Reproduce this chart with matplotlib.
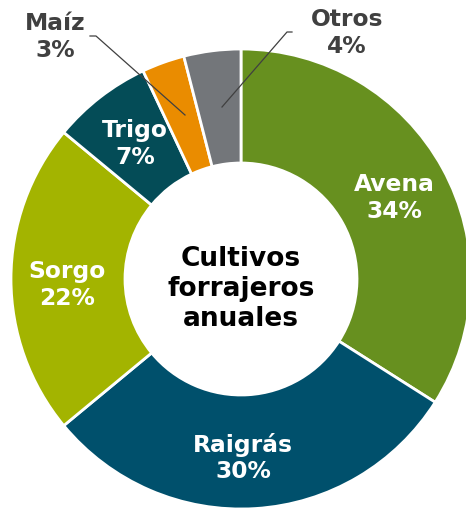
import matplotlib
matplotlib.use("Agg")
import matplotlib.pyplot as plt

# ── Data ─────────────────────────────────────────────────────────────────────
cultivos = ["Avena", "Raigrás", "Sorgo", "Trigo", "Maíz", "Otros"]
porcentajes = [34, 30, 22, 7, 3, 4]
colores = ["#67901f", "#00506c", "#a3b400", "#044c57", "#ea8c00", "#73767a"]

W, H = 466, 511
fig = plt.figure(figsize=(W / 100, H / 100), dpi=100)
ax = fig.add_axes([0, 0, 1, 1])

cx, cy = 241, H - 279
R, R_in = 230, 116
ax.pie(
    porcentajes, colors=colores, startangle=90, counterclock=False,
    center=(cx, cy), radius=R, frame=True,
    wedgeprops=dict(width=R - R_in, edgecolor="white", linewidth=2),
)
ax.set_xlim(0, W)
ax.set_ylim(0, H)
ax.set_aspect("equal")
ax.axis("off")

# ── Labels inside ring ──────────────────────────────────────────────────────
inside = {"Avena": (394, 198), "Raigrás": (243, 458),
          "Sorgo": (67, 285), "Trigo": (135, 144)}
for name, pct in zip(cultivos, porcentajes):
    if name in inside:
        x, y = inside[name]
        ax.text(x, H - y, f"{name}\n{pct}%", ha="center", va="center",
                color="white", fontsize=16.8, fontweight="bold", linespacing=1.22)

# ── Labels outside with leader lines ────────────────────────────────────────
outside = {"Maíz": ((55, 37), [(90, 36), (96, 36), (185, 115)]),
           "Otros": ((347, 33), [(292, 32), (287, 32), (222, 107)])}
for name, pct in zip(cultivos, porcentajes):
    if name in outside:
        (x, y), pts = outside[name]
        ax.text(x, H - y, f"{name}\n{pct}%", ha="center", va="center",
                color="#404040", fontsize=16.8, fontweight="bold", linespacing=1.22)
        ax.plot([p[0] for p in pts], [H - p[1] for p in pts],
                color="#404040", linewidth=0.9)

# ── Centre title ────────────────────────────────────────────────────────────
ax.text(cx, H - 289, "Cultivos\nforrajeros\nanuales", ha="center", va="center",
        color="black", fontsize=19, fontweight="bold", linespacing=1.18)

fig.savefig("out.png", dpi=100)
